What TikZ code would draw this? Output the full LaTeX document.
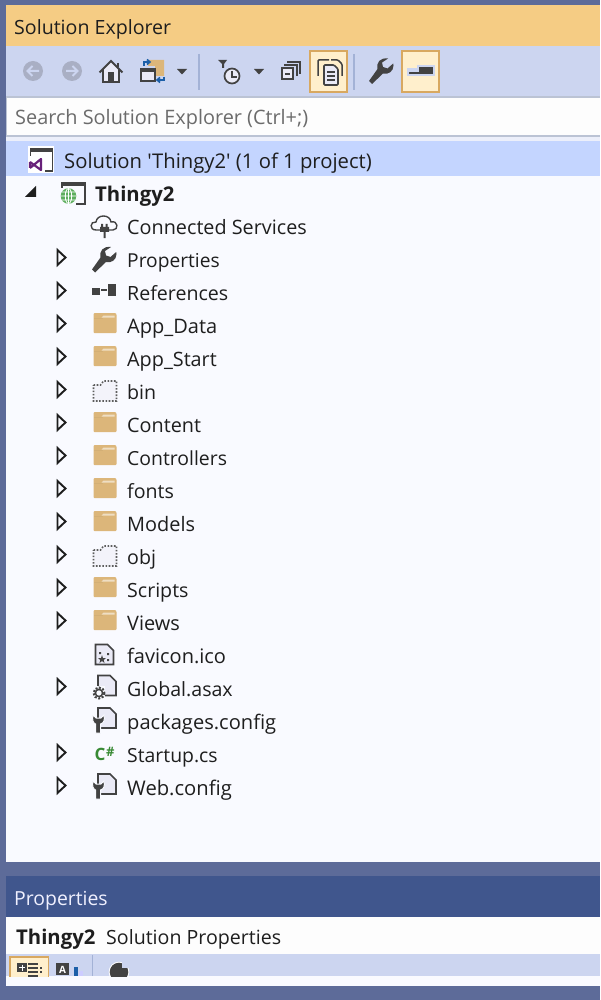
\documentclass[tikz,border=0pt]{standalone}
\usepackage{fontspec}
\setmainfont{Open Sans}[Ligatures=TeXOff]
\definecolor{frameblue}{HTML}{5D6B99}
\definecolor{titleor}{HTML}{F5CC84}
\definecolor{toolbg}{HTML}{CCD5F0}
\definecolor{searchbg}{HTML}{FDFDFD}
\definecolor{edgegray}{HTML}{BBC3D4}
\definecolor{selbg}{HTML}{C4D5FF}
\definecolor{treebg}{HTML}{F9FAFF}
\definecolor{proptitle}{HTML}{40568D}
\definecolor{ink}{HTML}{1E1E1E}
\definecolor{icodark}{HTML}{424242}
\definecolor{icofill}{HTML}{EAEAF6}
\definecolor{foldercol}{HTML}{DCB67A}
\definecolor{hibg}{HTML}{FFEFCC}
\definecolor{hiedge}{HTML}{D8A860}
\definecolor{sepcol}{HTML}{A3B2D6}
\definecolor{disab}{HTML}{A9AFC4}
\definecolor{csgreen}{HTML}{388A34}
\definecolor{vspurple}{HTML}{68217A}
\definecolor{globecol}{HTML}{5DAE5D}
\definecolor{blueico}{HTML}{1B5FA8}
\tikzset{
  x=1pt,y=-1pt,
  lbl/.style={inner sep=0pt,anchor=base west,text=ink,font=\fontsize{19.6}{24}\selectfont},
  lblb/.style={lbl,font=\fontsize{20.3}{24}\selectfont\bfseries},
  hibtn/.style={fill=hibg,draw=hiedge,line width=2pt},
  sepbar/.style={draw=sepcol,line width=2.6pt},
  dropdn/.style={fill=icodark,draw=none},
  outl/.style={draw=icodark,line width=1.6pt,line join=miter},
  expander/.pic={\draw[line width=1.9pt,draw=ink,fill=treebg,line join=miter] (-3.5,-10)--(4.5,-2.5)--(-3.5,5)--cycle;},
  folderico/.pic={
    \fill[foldercol,rounded corners=1pt] (0,-13)--(22,-13)--(23,-12)--(23,7)--(0,7)--cycle;
    \fill[foldercol!45!white] (10,-10.5)--(21,-10.5)--(21,-8.5)--(8,-8.5)--cycle;
    \fill[foldercol!85!black,opacity=.25] (0,-7)--(9,-7)--(9,-8)--(0,-8)--cycle;},
  dotfolder/.pic={
    \fill[icofill!60!white] (0,-7)--(7,-7)--(10,-11)--(23,-11)--(23,9)--(0,9)--cycle;
    \draw[icodark!85!white,line width=1.6pt,dash pattern=on 1.6pt off 1.6pt] (0,-7)--(7,-7)--(10,-11)--(23,-11)--(23,9)--(0,9)--cycle;},
  wrench/.pic={
    \fill[icodark] (-12,9.5) -- (-9,12.5) -- (2,2) .. controls (7,3.5) and (12.5,0) .. (12.5,-6) -- (12.2,-8) -- (6.5,-3) -- (2,-4.5) -- (1,-9) -- (7,-13) .. controls (-1,-14) and (-5,-9) .. (-3.5,-2.5) -- cycle;},
  docshape/.pic={
    \fill[icofill] (0,0)--(12,0)--(18,6)--(18,20)--(0,20)--cycle;
    \draw[outl] (0,0)--(12,0)--(18,6)--(18,20)--(0,20)--cycle;},
  smallwrench/.pic={
    \fill[icodark,draw=treebg,line width=1pt] (-2.5,10) -- (2.5,10) -- (2.5,1) .. controls (6,0) and (7,-3) .. (6,-8) -- (3,-5) -- (-2,-5) -- (-5,-8) .. controls (-6,-3) and (-5,0) .. (-2.5,1) -- cycle;},
}
\begin{document}
\begin{tikzpicture}
\useasboundingbox (0,0) rectangle (600,1000);
% panels
\fill[frameblue] (0,0) rectangle (600,1000);
\fill[titleor] (6,5) rectangle (600,46);
\fill[toolbg] (6,46) rectangle (600,96);
\fill[edgegray] (6,96) rectangle (600,137);
\fill[searchbg] (7,98) rectangle (600,135);
\fill[treebg!70!toolbg] (6,137) rectangle (600,141);
\fill[selbg] (6,141) rectangle (600,176);
\fill[treebg] (6,176) rectangle (600,862);
\fill[proptitle] (6,876) rectangle (600,917);
\fill[searchbg] (6,917) rectangle (600,954);
\fill[toolbg] (6,954) rectangle (600,976);
\fill[treebg] (6,976) rectangle (600,986);
% titles
\node[lbl] (titleA) at (14,35) {Solution Explorer};
\node[lbl,font=\fontsize{19.87}{24}\selectfont,text=black!58] (searchtxt) at (15,125) {Search Solution Explorer (Ctrl+;)};
\node[lbl,font=\fontsize{19.4}{24}\selectfont,text=white!94!blue] (titleB) at (14,905.5) {Properties};
\node[lblb] (propname) at (16,944) {Thingy2};
\node[lbl] (propsub) at (106,944) {Solution Properties};
% toolbar buttons
\draw[hibtn] (310,51) rectangle (347,92);
\draw[hibtn] (402,51) rectangle (439,92);
\draw[sepbar] (199,54)--(199,90);
\draw[sepbar] (354,54)--(354,90);
% back / forward
\fill[disab] (33,71) circle (10);
\draw[toolbg,line width=2pt] (39,71)--(28,71) (32.5,66)--(27.5,71)--(32.5,76);
\fill[disab] (72,71) circle (10);
\draw[toolbg,line width=2pt] (66,71)--(77,71) (72.5,66)--(77.5,71)--(72.5,76);
% home
\fill[icofill] (103,82)--(103,69)--(111,61)--(119,69)--(119,82)--cycle;
\draw[icodark,line width=2pt,line join=miter] (99.5,72.5)--(111,61)--(122.5,72.5);
\draw[icodark,line width=2pt] (117.5,63)--(117.5,67);
\draw[icodark,line width=2pt] (103,69)--(103,82)--(119,82)--(119,69);
\fill[icodark] (108,72) rectangle (114,82);
% sync
\fill[foldercol] (148,60)--(164,60)--(164,76)--(155,76)--(155,66)--(148,66)--cycle;
\fill[icofill] (141,69) rectangle (155,81);
\draw[icodark,line width=1.8pt] (141,81) rectangle (155,69.5);
\fill[icodark] (140,68) rectangle (156,72);
\draw[blueico,line width=1.6pt] (144,66)--(144,62)--(149,62);
\draw[blueico,line width=1.6pt] (147,59.5)--(150,62)--(147,64.5);
\draw[blueico,line width=1.6pt] (164,77)--(164,80)--(158,80);
\draw[blueico,line width=1.6pt] (160,77.5)--(157,80)--(160,82.5);
\fill[dropdn] (177,69)--(187,69)--(182,74.5)--cycle;
% clock
\fill[icodark] (218,60)--(227,60)--(224,64)--(224,68)--(222,68)--(222,64)--cycle;
\fill[icofill] (232,76) circle (7.5);
\draw[icodark,line width=1.7pt] (232,76) circle (7.5);
\draw[icodark,line width=1.5pt] (232,71)--(232,77)--(237,77);
\fill[dropdn] (254,69)--(264,69)--(259,74.5)--cycle;
% collapse
\draw[icodark,line width=1.4pt] (287,62)--(300,62)--(300,74);
\draw[icodark,line width=1.4pt] (284,65)--(297,65)--(297,76);
\fill[icofill] (282,68) rectangle (293,79);
\draw[icodark,line width=1.7pt] (282,68) rectangle (293,79);
\draw[icodark,line width=1.5pt] (285,74)--(290,74);
% show all files
\begin{scope}[shift={(318,58)}]
\draw[icodark,line width=1.5pt,rounded corners=1pt] (0,18)--(0,2)--(11,2);
\draw[icodark,line width=1.5pt,rounded corners=1pt] (13,2)--(20,2)--(24,6)--(24,18);
\fill[icofill] (6,7)--(16,7)--(20,11)--(20,27)--(6,27)--cycle;
\draw[icodark,line width=1.6pt,rounded corners=1pt] (6,7)--(16,7)--(20,11)--(20,27)--(6,27)--cycle;
\draw[icodark,line width=1.3pt] (9,14)--(17,14) (9,18)--(17,18) (9,22)--(17,22);
\end{scope}
\pic at (381,71.5) {wrench};
% pin
\fill[toolbg] (407,68) rectangle (417,76);
\fill[toolbg] (417,65) rectangle (435,76);
\fill[icodark] (419,67.5) rectangle (433,74);
\fill[icodark] (409,72.5) rectangle (419,74);
% solution row
\node[lbl,font=\fontsize{20.25}{24}\selectfont] (solution) at (64,169) {Solution 'Thingy2' (1 of 1 project)};
\fill[white] (28,146) rectangle (54,173);
\draw[icodark,line width=1.4pt] (45,171)--(52.5,171)--(52.5,151);
\fill[icodark] (30,148) rectangle (53,152.5);
\draw[icodark,line width=1.4pt] (30.5,152)--(30.5,156);
\fill[white] (28,157) rectangle (45,173);
\draw[vspurple,line width=2.2pt,line join=round] (30,162)--(30,168) (30,162)--(41,170)--(41,159)--(30,168);
% project row
\fill[icodark] (61,182) rectangle (86,186.5);
\draw[icodark,line width=1.4pt] (85,186)--(85,204)--(72,204);
\draw[icodark,line width=1.4pt] (62,186)--(62,190);
\fill[treebg] (60,188) rectangle (76,206);
\fill[globecol] (68.5,196) circle (7.8);
\draw[white,line width=.8pt] (68.5,196) circle (3.2 and 7.5) (68.5,188.5)--(68.5,203.5) (61,196)--(76,196) (62,192)--(75,192) (62,200)--(75,200);
\fill[ink] (36,186)--(36,197)--(25,197)--cycle;
\node[lblb] (project) at (95,201.5) {Thingy2};
% tree rows
\foreach \nm/\tx/\ry/\sz in {cs/Connected Services/227/19.8,pr/Properties/260/19.2,rf/References/293/19.6,ad/App\_Data/326/20,as/App\_Start/359/19.8,bn/bin/392/19.6,ct/Content/425/19.8,cl/Controllers/458/19.4,fn/fonts/491/19.6,md/Models/524/19.9,ob/obj/557/19.6,sc/Scripts/590/19.6,vw/Views/623/19.9,fv/favicon.ico/656/20,gb/Global.asax/689/19.6,pk/packages.config/722/20.1,st/Startup.cs/755/19.4,wb/Web.config/788/20.2}
  {\node[lbl,font=\fontsize{\sz}{24}\selectfont] (\nm) at (127,\ry+7) {\tx};}
\foreach \ry in {260,293,326,359,392,425,458,491,524,557,590,623,689,755,788}
  {\pic at (61,\ry) {expander};}
\foreach \ry in {326,359,425,458,491,524,590,623}
  {\pic at (93.5,\ry) {folderico};}
\foreach \ry in {392,557}
  {\pic at (93.5,\ry) {dotfolder};}
% connected services
\draw[icodark,line width=1.4pt,fill=treebg] (96,230)  .. controls (89,230) and (90,221) .. (96,222) .. controls (97,214) and (110,214) .. (111,222) .. controls (118,220) and (119,230) .. (113,230) -- cycle;
\fill[icodark] (101,224) rectangle (103,228) (105.5,224) rectangle (107.5,228);
\fill[icodark] (100,227) rectangle (109,232) (103.5,232) rectangle (105.5,238);
% properties wrench
\pic at (104,260) {wrench};
% references
\fill[icodark] (92,288) rectangle (100,295);
\fill[icodark] (108,284) rectangle (116,296);
\draw[icodark,line width=1.2pt] (101,290)--(107,290);
% favicon
\pic at (95.5,644.5) {docshape};
\fill[icodark] (99,652) rectangle (101,654) (107,653) rectangle (109,655) (107,659) rectangle (109,661);
\fill[icodark] (102,655)--(103,658)--(106,658)--(103.7,660)--(104.5,663)--(102,661)--(99.5,663)--(100.3,660)--(98,658)--(101,658)--cycle;
% global asax
\pic at (98,675.5) {docshape};
\fill[treebg] (91,686) rectangle (105,701);
\draw[icodark,line width=2pt,dash pattern=on 2pt off 1.6pt] (99,693) circle (5.5);
\draw[icodark,line width=1.5pt] (99,693) circle (3.6);
% packages
\pic at (98,708) {docshape};
\pic at (98,723) {smallwrench};
% startup
\node[inner sep=0pt,anchor=base west,text=csgreen,font=\fontsize{17}{20}\selectfont\bfseries] (csc) at (94.5,760.5) {C};
\node[inner sep=0pt,anchor=base west,text=csgreen,font=\fontsize{13}{16}\selectfont\bfseries] (csh) at (106,756) {\#};
% web config
\pic at (98,774) {docshape};
\pic at (98,789) {smallwrench};
% bottom toolbar
\begin{scope}
\clip (6,954) rectangle (600,976);
\draw[hibtn,line width=1.5pt] (10,957) rectangle (48.5,985);
\fill[icodark] (17,963) rectangle (27,972);
\draw[white,line width=1pt] (19,967.5)--(25,967.5) (22,964.5)--(22,970.5);
\draw[icodark,line width=1.5pt] (28,964)--(38,964) (28,968)--(38,968) (28,972)--(38,972) (28,976)--(38,976) (40,968)--(42,968) (40,972)--(42,972);
\fill[icodark] (56,963) rectangle (69,975);
\node[inner sep=0pt,anchor=base,text=white,font=\fontsize{10}{12}\selectfont\bfseries] (alpha) at (62.5,973) {A};
\fill[blueico] (74,967) rectangle (78,976);
\fill[white!80!blue] (79,971) rectangle (83,976);
\draw[sepbar,line width=1pt] (92.5,955)--(92.5,976);
\fill[white] (119,972) circle (10.3);
\fill[icodark] (119,972) circle (9.3);
\fill[toolbg] (122,961)--(130,961)--(130,968)--(122,968)--cycle;
\end{scope}
\end{tikzpicture}
\end{document}
